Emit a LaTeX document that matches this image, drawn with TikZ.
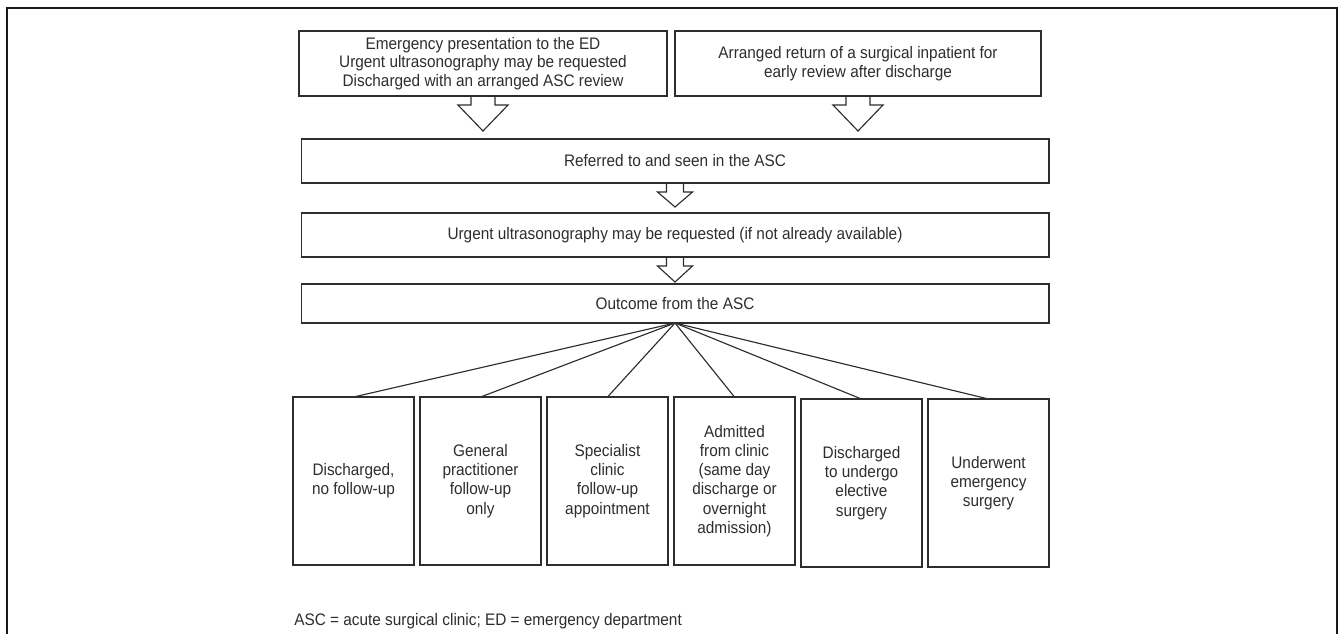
\documentclass[tikz,border=0pt]{standalone}
\usepackage{fontspec}
\setmainfont[FakeStretch=0.92]{Liberation Sans}
\usepackage{tikz}
\usetikzlibrary{positioning, calc}
\definecolor{InkGrey}{RGB}{45,45,45}
\tikzset{
  fbox/.style={draw=InkGrey, line width=0.65pt, text=InkGrey, align=center, inner sep=2pt,
    outer sep=0pt, font=\fontsize{9.5}{10.5}\selectfont},
  topbox/.style={fbox, minimum height=1.3cm},
  widebox/.style={fbox, minimum width=14.96cm},
  outbox/.style={fbox, minimum width=2.42cm, minimum height=3.36cm, font=\fontsize{9.5}{10.9}\selectfont},
  blkarr/.style={draw=InkGrey, line width=0.65pt, line join=miter},
  lnk/.style={draw=InkGrey, line width=0.65pt},
  outerframe/.style={draw=black!90, line width=1.3pt},
  note/.style={text=InkGrey, anchor=west, inner sep=0pt, font=\fontsize{9.5}{10.5}\selectfont},
}

\begin{document}
\begin{tikzpicture}[x=0.02cm, y=-0.02cm]
    \clip (0,0) rectangle (1343,633);
    \draw[outerframe] (7,650) -- (7,8) -- (1337,8) -- (1337,650);
    \node[topbox, minimum width=7.36cm] (ed) at (483,63.5)
      {Emergency presentation to the ED\\Urgent ultrasonography may be requested\\Discharged with an arranged ASC review};
    \node[topbox, minimum width=7.32cm] (ret) at (858,63.5)
      {Arranged return of a surgical inpatient for\\early review after discharge};
    \node[widebox, minimum height=0.88cm] (asc) at (675,161) {Referred to and seen in the ASC};
    \node[widebox, minimum height=0.88cm] (uss) at (675,235)
      {Urgent ultrasonography may be requested (if not already available)};
    \node[widebox, minimum height=0.78cm] (outc) at (675,303.5) {Outcome from the ASC};
    \node[outbox] (o1) at (353.5,481) {Discharged,\\no follow-up};
    \node[outbox] (o2) at (480.5,481) {General\\practitioner\\follow-up\\only};
    \node[outbox] (o3) at (607.5,481) {Specialist\\clinic\\follow-up\\appointment};
    \node[outbox] (o4) at (734.5,481) {Admitted\\from clinic\\(same day\\discharge or\\overnight\\admission)};
    \node[outbox] (o5) at (861.5,483) {Discharged\\to undergo\\elective\\surgery};
    \node[outbox] (o6) at (988.5,483) {Underwent\\emergency\\surgery};
    \foreach \o in {o1,o2,o3,o4,o5,o6} \draw[lnk] (outc.south) -- (\o.north);
    \foreach \a/\w/\h/\l in {ed/12/25/26, ret/12/25/26, asc/8.5/17.5/15, uss/8.5/17.5/16}
      \draw[blkarr] ($(\a.south)+(-\w,0)$) -- ++(0,9) -- ++({\w-\h},0) -- ++(\h,\l)
        -- ++(\h,-\l) -- ++({\w-\h},0) -- ++(0,-9);
    \node[note] (fn) at (294,621) {ASC = acute surgical clinic; ED = emergency department};
  \end{tikzpicture}
\end{document}
